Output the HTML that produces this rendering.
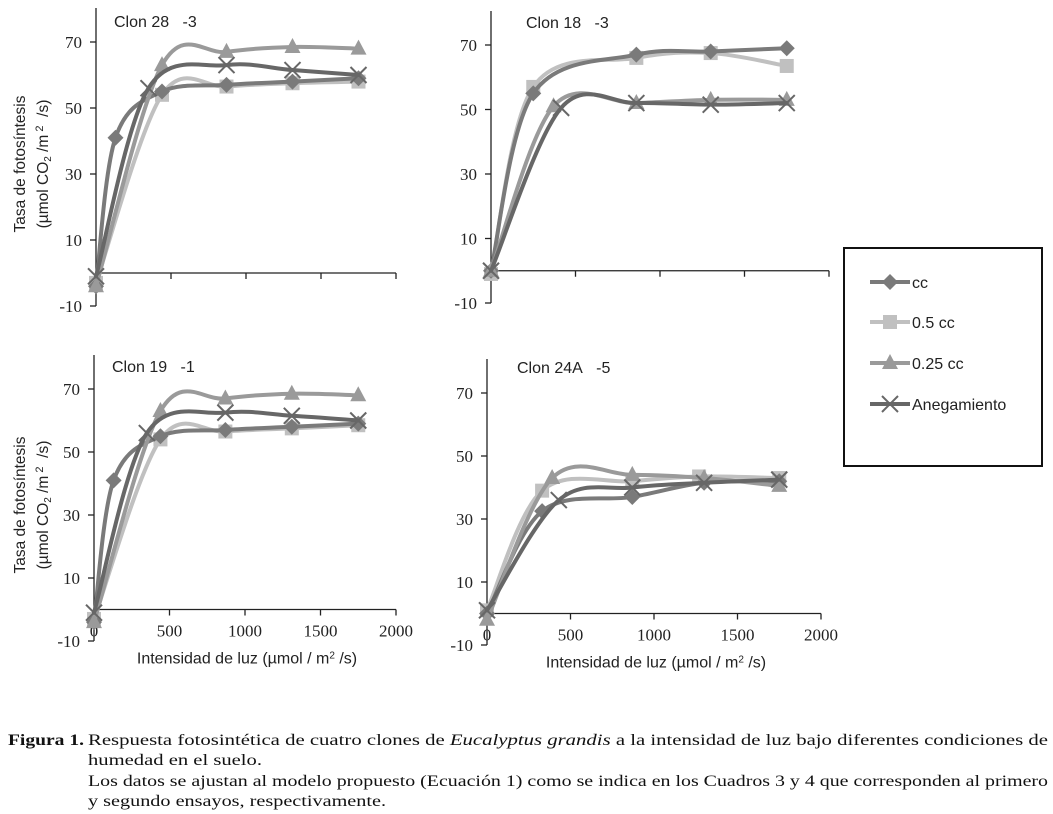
<!DOCTYPE html>
<html><head><meta charset="utf-8"><style>
html,body{margin:0;padding:0;background:#fff;}
svg{display:block;}
</style></head><body>
<svg id="fig" width="1053" height="814" xmlns="http://www.w3.org/2000/svg"></svg>
<script>
const seriesNames = ["cc","0.5 cc","0.25 cc","Anegamiento"];
const xTicks = [0,500,1000,1500,2000];
const yTicks = [-10,10,30,50,70];
// Clon 28
const c28_cc_x=[0,130,440,870,1310,1750], c28_cc_y=[-4,41,55,57,58,59];
const c28_h_x=[0,440,870,1310,1750], c28_h_y=[-3,54,56.5,57.5,58];
const c28_q_x=[0,440,870,1310,1750], c28_q_y=[-4,63,67,68.5,68];
const c28_a_x=[0,350,870,1310,1750], c28_a_y=[-1,56,63,61.5,60];
// Clon 18
const c18_cc_x=[0,250,860,1300,1750], c18_cc_y=[0,55,67,68,69];
const c18_h_x=[0,250,860,1300,1750], c18_h_y=[-1,57,66,67.5,63.5];
const c18_q_x=[0,370,860,1300,1750], c18_q_y=[0,51,52,53,53];
const c18_a_x=[0,415,860,1300,1750], c18_a_y=[0,50.5,52,51.5,52];
// Clon 19
const c19_cc_x=[0,130,440,870,1310,1750], c19_cc_y=[-4,41,55,57,58,59];
const c19_h_x=[0,440,870,1310,1750], c19_h_y=[-3,54,56.5,57.5,58.5];
const c19_q_x=[0,440,870,1310,1750], c19_q_y=[-4,63,67,68.5,68];
const c19_a_x=[0,350,870,1310,1750], c19_a_y=[-1,56,62.5,61.5,60];
// Clon 24A
const c24_cc_x=[0,330,870,1300,1750], c24_cc_y=[0,32.5,37,41.5,42];
const c24_h_x=[0,330,870,1270,1750], c24_h_y=[1,39,42,43.5,43];
const c24_q_x=[0,390,870,1300,1750], c24_q_y=[-2,43,44,43,40.5];
const c24_a_x=[0,430,870,1300,1750], c24_a_y=[1,36,40,41.5,42.5];

const colors=["#7a7a7a","#c0c0c0","#9a9a9a","#676767"];
const markers=["diamond","square","triangle","x"];
const panels=[
 {name:"clon-28",title:"Clon 28\u00a0\u00a0\u00a0-3",x0:96,x1:396,yAt70:42,yAtM10:306,tx:114,ty:27,ylab:true,xlab:false,tickLabelsX:false,
  s:[[c28_cc_x,c28_cc_y],[c28_h_x,c28_h_y],[c28_q_x,c28_q_y],[c28_a_x,c28_a_y]]},
 {name:"clon-18",title:"Clon 18\u00a0\u00a0\u00a0-3",x0:491,x1:829,yAt70:45,yAtM10:303,tx:526,ty:28,ylab:false,xlab:false,tickLabelsX:false,
  s:[[c18_cc_x,c18_cc_y],[c18_h_x,c18_h_y],[c18_q_x,c18_q_y],[c18_a_x,c18_a_y]]},
 {name:"clon-19",title:"Clon 19\u00a0\u00a0\u00a0-1",x0:94,x1:396,yAt70:389,yAtM10:641,tx:112,ty:372,ylab:true,xlab:true,tickLabelsX:true,
  s:[[c19_cc_x,c19_cc_y],[c19_h_x,c19_h_y],[c19_q_x,c19_q_y],[c19_a_x,c19_a_y]]},
 {name:"clon-24a",title:"Clon 24A\u00a0\u00a0\u00a0-5",x0:487,x1:821,yAt70:393,yAtM10:645,tx:517,ty:373,ylab:false,xlab:true,tickLabelsX:true,
  s:[[c24_cc_x,c24_cc_y],[c24_h_x,c24_h_y],[c24_q_x,c24_q_y],[c24_a_x,c24_a_y]]}
];
const NS="http://www.w3.org/2000/svg";
const svg=document.getElementById('fig');
function mk(tag,attrs,parent,text){const e=document.createElementNS(NS,tag);for(const k in attrs)e.setAttribute(k,attrs[k]);if(text!==undefined)e.textContent=text;(parent||svg).appendChild(e);return e;}
function smooth(pts){
 let d="M"+pts[0][0]+","+pts[0][1];
 for(let i=0;i<pts.length-1;i++){
  const p0=pts[i-1]||pts[i],p1=pts[i],p2=pts[i+1],p3=pts[i+2]||p2;
  const c1=[p1[0]+(p2[0]-p0[0])/6,p1[1]+(p2[1]-p0[1])/6];
  const c2=[p2[0]-(p3[0]-p1[0])/6,p2[1]-(p3[1]-p1[1])/6];
  d+=" C"+c1[0]+","+c1[1]+" "+c2[0]+","+c2[1]+" "+p2[0]+","+p2[1];
 }
 return d;
}
function marker(g,type,x,y,c){
 let e;
 if(type==="diamond")e=mk('polygon',{points:`${x},${y-8} ${x+8},${y} ${x},${y+8} ${x-8},${y}`,fill:c},g);
 else if(type==="square")e=mk('rect',{x:x-7,y:y-7,width:14,height:14,fill:c},g);
 else if(type==="triangle")e=mk('polygon',{points:`${x},${y-9} ${x+8},${y+6} ${x-8},${y+6}`,fill:c},g);
 else e=mk('path',{d:`M${x-8},${y-8}L${x+8},${y+8}M${x+8},${y-8}L${x-8},${y+8}`,stroke:c,'stroke-width':2},g);
 return e;
}
panels.forEach(p=>{
 const g=mk('g',{});
 
 
 const sy=v=>p.yAtM10+(v+10)*(p.yAt70-p.yAtM10)/80;
 const sx=v=>p.x0+v*(p.x1-p.x0)/2000;
 const y0=sy(0);
 const ax=mk('g',{stroke:"#222",'stroke-width':1.3,fill:'none'},g);
 
 mk('line',{x1:p.x0,y1:p.yAt70-34,x2:p.x0,y2:p.yAtM10},ax);
 mk('line',{x1:p.x0,y1:y0,x2:p.x1,y2:y0},ax);
 yTicks.forEach(t=>{mk('line',{x1:p.x0-6,y1:sy(t),x2:p.x0,y2:sy(t)},ax);
  const tl=mk('text',{x:p.x0-14,y:sy(t)+6,'text-anchor':'end','font-family':'Liberation Serif, serif','font-size':17,fill:'#222'},g,String(t));
  });
 xTicks.forEach(t=>{if(t>0)mk('line',{x1:sx(t),y1:y0,x2:sx(t),y2:y0+6},ax);
  if(p.tickLabelsX){const tl=mk('text',{x:sx(t),y:y0+27,'text-anchor':'middle','font-family':'Liberation Serif, serif','font-size':17,fill:'#222'},g,String(t));
  }});
 const tt=mk('text',{x:p.tx,y:p.ty,'font-family':'Liberation Sans, sans-serif','font-size':16,fill:'#222'},g,p.title);
 
 if(p.ylab){const cy=(p.yAt70+p.yAtM10)/2-10;
  const yl=mk('text',{transform:`translate(25,${cy}) rotate(-90)`,'text-anchor':'middle','font-family':'Liberation Sans, sans-serif','font-size':15.5,fill:'#222'},g,'Tasa de fotosíntesis');
  
  const yl2=mk('text',{transform:`translate(48,${cy}) rotate(-90)`,'text-anchor':'middle','font-family':'Liberation Sans, sans-serif','font-size':15.5,fill:'#222'},g);
  yl2.innerHTML='(µmol CO<tspan font-size="10" dy="3">2</tspan><tspan dy="-3"> /m</tspan><tspan font-size="11" dy="-5">\u00a02</tspan><tspan dy="5">\u00a0\u00a0/s)</tspan>';
  }
 if(p.xlab){const xl=mk('text',{x:(p.x0+p.x1)/2+2,y:y0+54,'text-anchor':'middle','font-family':'Liberation Sans, sans-serif','font-size':16,fill:'#222'},g);
  xl.innerHTML='Intensidad de luz (µmol / m<tspan font-size="10" dy="-5">2</tspan><tspan dy="5"> /s)</tspan>';
  }
 const order=[1,0,2,3];
 order.forEach(i=>{
  const [xs,ys]=p.s[i];
  const pts=xs.map((v,j)=>[sx(v),sy(ys[j])]);
  const sg=mk('g',{},g);
  
  
  mk('path',{d:smooth(pts),fill:'none',stroke:colors[i],'stroke-width':4,'stroke-linecap':'round'},sg);
  pts.forEach(q=>marker(sg,markers[i],q[0],q[1],colors[i]));
 });
});
// legend
const lg=mk('g',{});

mk('rect',{x:844,y:248,width:198,height:218,fill:'#fff',stroke:'#111','stroke-width':2},lg);
const ly=[282,322,363,404];
seriesNames.forEach((n,i)=>{
 const e=mk('g',{},lg);
 
 mk('line',{x1:870,y1:ly[i],x2:910,y2:ly[i],stroke:colors[i],'stroke-width':4},e);
 marker(e,markers[i],890,ly[i],colors[i]);
 mk('text',{x:912,y:ly[i]+6,'font-family':'Liberation Sans, sans-serif','font-size':16,fill:'#222'},e,n);
});
// caption
const cap=mk('g',{'font-family':'Liberation Serif, serif','font-size':15.5,fill:'#111'});

mk('text',{x:8,y:745,'font-weight':'bold',textLength:76,lengthAdjust:'spacingAndGlyphs'},cap,'Figura 1.');
const l1=mk('text',{x:88,y:745,textLength:960,lengthAdjust:'spacingAndGlyphs'},cap);
l1.innerHTML='Respuesta fotosintética de cuatro clones de <tspan font-style="italic">Eucalyptus grandis</tspan> a la intensidad de luz bajo diferentes condiciones de';
mk('text',{x:88,y:765,textLength:174,lengthAdjust:'spacingAndGlyphs'},cap,'humedad en el suelo.');
mk('text',{x:88,y:786,textLength:960,lengthAdjust:'spacingAndGlyphs'},cap,'Los datos se ajustan al modelo propuesto (Ecuación 1) como se indica en los Cuadros 3 y 4 que corresponden al primero');
mk('text',{x:88,y:806,textLength:298,lengthAdjust:'spacingAndGlyphs'},cap,'y segundo ensayos, respectivamente.');
</script>
</body></html>
